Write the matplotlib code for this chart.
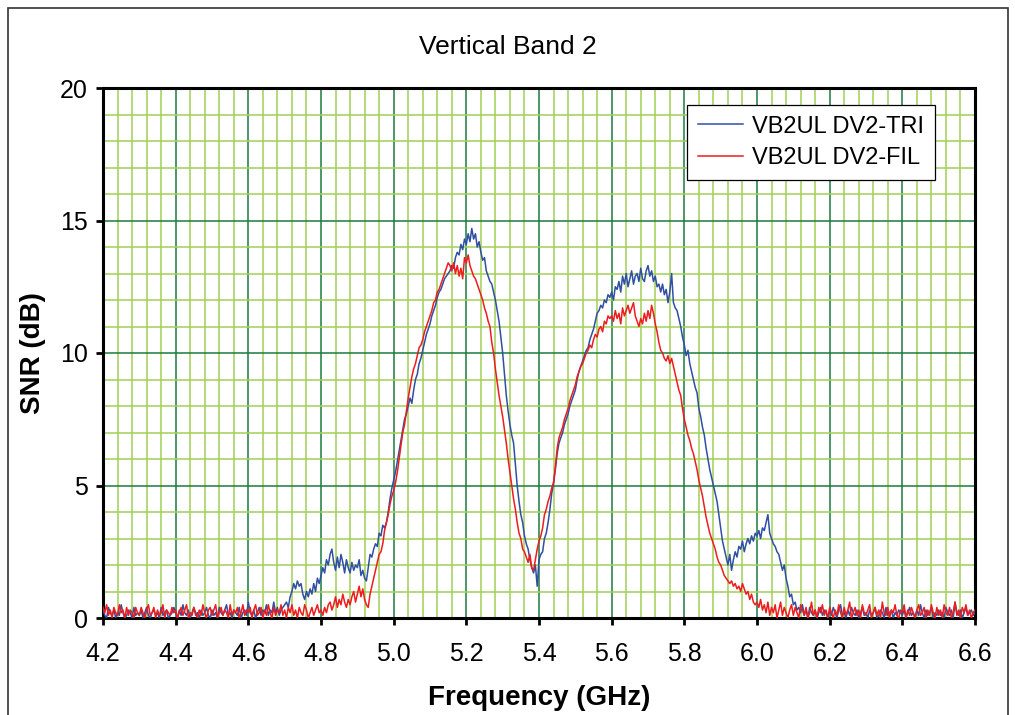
import matplotlib
matplotlib.use("Agg")
import matplotlib.pyplot as plt
import matplotlib.patches as patches
from matplotlib.ticker import MultipleLocator, FormatStrFormatter
import numpy as np

plt.rcParams['font.family'] = ['Liberation Sans', 'DejaVu Sans']

# frequency axis: 4.200 .. 6.600 GHz, 0.005 GHz step
f_start = 4.2
f_step = 0.005

# VB2UL DV2-TRI (blue), one row = 0.1 GHz
snr_tri = [
    0.3, 0.1, 0.0, 0.4, 0.2, 0.1, 0.3, 0.0, 0.2, 0.1, 0.5, 0.2, 0.0, 0.1, 0.3, 0.2, 0.0, 0.4, 0.1, 0.2,
    0.1, 0.3, 0.0, 0.2, 0.4, 0.1, 0.0, 0.2, 0.3, 0.1, 0.2, 0.0, 0.4, 0.1, 0.2, 0.3, 0.0, 0.1, 0.2, 0.4,
    0.2, 0.0, 0.3, 0.1, 0.5, 0.2, 0.1, 0.3, 0.0, 0.2, 0.4, 0.1, 0.2, 0.0, 0.3, 0.1, 0.2, 0.4, 0.1, 0.0,
    0.3, 0.1, 0.2, 0.0, 0.4, 0.2, 0.1, 0.3, 0.5, 0.1, 0.2, 0.0, 0.3, 0.2, 0.1, 0.4, 0.0, 0.2, 0.3, 0.1,
    0.6, 0.2, 0.1, 0.3, 0.0, 0.2, 0.4, 0.1, 0.3, 0.2, 0.5, 0.1, 0.3, 0.2, 0.6, 0.2, 0.4, 0.1, 0.3, 0.4,
    0.5, 0.6, 0.4, 0.8, 1.0, 1.3, 1.1, 1.4, 1.2, 1.3, 0.9, 0.7, 1.0, 0.8, 1.1, 0.9, 1.3, 1.0, 1.5, 1.3,
    1.6, 1.9, 1.7, 2.2, 2.0, 2.4, 2.6, 2.1, 1.8, 2.3, 1.9, 2.4, 2.1, 1.7, 2.2, 1.9, 1.7, 2.1, 1.8, 2.0,
    1.9, 2.2, 1.6, 1.8, 1.5, 1.4, 1.9, 2.4, 2.3, 2.6, 2.8, 2.7, 3.2, 3.1, 3.5, 3.4, 3.6, 4.0, 4.5, 4.9,
    5.2, 5.5, 5.9, 6.3, 6.7, 7.1, 7.5, 7.7, 8.0, 8.3, 8.1, 8.6, 9.0, 9.2, 9.6, 9.8, 10.1, 10.4, 10.7, 10.9,
    11.1, 11.4, 11.6, 11.8, 12.1, 12.3, 12.4, 12.6, 12.8, 12.9, 13.0, 13.1, 13.3, 13.2, 13.6, 13.8, 13.7, 14.1, 13.9, 14.3,
    14.1, 14.5, 14.2, 14.7, 14.3, 14.5, 14.0, 14.2, 13.8, 13.5, 13.6, 13.1, 12.9, 12.7, 12.6, 12.3, 12.0, 11.6, 11.2, 10.6,
    10.0, 9.2, 8.4, 7.8, 7.3, 6.9, 6.6, 5.8, 5.0, 4.4, 3.9, 3.6, 3.1, 2.8, 2.6, 2.2, 1.9, 1.7, 2.0, 1.2,
    2.2, 2.4, 2.5, 3.0, 3.2, 3.6, 4.1, 4.7, 5.1, 5.6, 6.2, 6.6, 6.8, 7.0, 7.3, 7.5, 7.7, 8.0, 8.2, 8.4,
    8.6, 9.0, 9.3, 9.5, 9.7, 9.9, 10.1, 10.2, 10.5, 10.7, 10.9, 11.2, 11.5, 11.6, 11.8, 11.7, 12.0, 11.9, 12.2, 12.1,
    12.3, 12.0, 12.5, 12.4, 12.7, 12.3, 12.9, 12.6, 13.0, 12.5, 12.8, 13.1, 12.6, 12.9, 13.0, 12.7, 13.2, 12.8, 12.7, 13.1,
    13.3, 12.9, 13.1, 12.7, 12.9, 12.5, 12.6, 12.3, 12.6, 12.2, 12.4, 11.9, 12.3, 13.0, 11.9, 11.7, 11.6, 11.3, 11.0, 10.6,
    10.3, 9.9, 10.1, 9.6, 9.3, 9.0, 8.7, 8.5, 7.9, 7.6, 7.2, 6.9, 6.4, 6.0, 5.6, 5.3, 5.0, 4.7, 4.4, 3.9,
    3.4, 2.9, 2.6, 2.3, 2.0, 2.4, 1.8, 2.2, 2.5, 2.3, 2.7, 2.6, 2.9, 2.5, 2.8, 3.0, 2.8, 3.1, 2.9, 3.2,
    3.1, 3.3, 3.0, 3.4, 3.3, 3.6, 3.9, 3.2, 3.0, 2.8, 2.7, 2.5, 2.4, 2.1, 1.8, 2.0, 1.5, 1.2, 0.8, 0.9,
    0.5, 0.6, 0.3, 0.4, 0.2, 0.5, 0.1, 0.3, 0.0, 0.4, 0.2, 0.1, 0.3, 0.0, 0.2, 0.4, 0.1, 0.3, 0.2, 0.0,
    0.3, 0.1, 0.4, 0.2, 0.0, 0.3, 0.5, 0.1, 0.2, 0.0, 0.3, 0.1, 0.4, 0.2, 0.1, 0.3, 0.0, 0.2, 0.4, 0.1,
    0.2, 0.0, 0.3, 0.1, 0.2, 0.4, 0.0, 0.1, 0.3, 0.2, 0.0, 0.4, 0.1, 0.2, 0.3, 0.0, 0.2, 0.1, 0.3, 0.2,
    0.1, 0.3, 0.0, 0.2, 0.4, 0.1, 0.2, 0.0, 0.3, 0.1, 0.5, 0.2, 0.0, 0.3, 0.1, 0.2, 0.4, 0.0, 0.2, 0.1,
    0.3, 0.1, 0.2, 0.0, 0.4, 0.2, 0.1, 0.3, 0.0, 0.6, 0.2, 0.1, 0.3, 0.0, 0.2, 0.4, 0.1, 0.2, 0.3, 0.1,
    0.2,
]

# VB2UL DV2-FIL (red)
snr_fil = [
    0.4, 0.2, 0.5, 0.1, 0.3, 0.0, 0.4, 0.2, 0.1, 0.5, 0.2, 0.3, 0.0, 0.4, 0.1, 0.3, 0.2, 0.0, 0.4, 0.2,
    0.1, 0.4, 0.2, 0.0, 0.3, 0.5, 0.1, 0.2, 0.4, 0.0, 0.3, 0.1, 0.2, 0.5, 0.0, 0.3, 0.2, 0.1, 0.4, 0.2,
    0.3, 0.0, 0.2, 0.4, 0.1, 0.3, 0.5, 0.0, 0.2, 0.1, 0.4, 0.2, 0.0, 0.3, 0.1, 0.5, 0.2, 0.0, 0.3, 0.4,
    0.1, 0.3, 0.5, 0.0, 0.2, 0.4, 0.1, 0.3, 0.2, 0.0, 0.5, 0.1, 0.3, 0.2, 0.4, 0.0, 0.2, 0.5, 0.1, 0.3,
    0.2, 0.4, 0.0, 0.3, 0.5, 0.1, 0.2, 0.4, 0.0, 0.3, 0.1, 0.5, 0.2, 0.0, 0.4, 0.1, 0.3, 0.2, 0.5, 0.1,
    0.3, 0.0, 0.4, 0.2, 0.5, 0.1, 0.3, 0.0, 0.4, 0.2, 0.1, 0.5, 0.3, 0.0, 0.2, 0.4, 0.1, 0.3, 0.5, 0.2,
    0.3, 0.1, 0.4, 0.2, 0.5, 0.6, 0.3, 0.5, 0.8, 0.4, 0.7, 0.5, 0.9, 0.6, 0.4, 0.7, 0.5, 0.8, 1.0, 0.6,
    0.9, 1.2, 0.8, 1.1, 0.7, 0.5, 0.4, 0.9, 1.2, 1.5, 1.8, 2.1, 2.4, 2.5, 2.8, 3.3, 3.6, 3.9, 4.3, 4.6,
    4.8, 5.1, 5.5, 6.0, 6.5, 7.0, 7.3, 7.8, 8.3, 8.7, 9.1, 9.4, 9.6, 9.9, 10.2, 10.3, 10.5, 10.8, 11.0, 11.2,
    11.4, 11.6, 11.9, 12.0, 12.3, 12.4, 12.6, 12.8, 13.0, 13.2, 13.4, 13.3, 13.1, 13.4, 13.0, 13.3, 12.9, 13.2, 12.8, 13.6,
    13.4, 13.7, 13.3, 13.1, 12.9, 12.8, 12.6, 12.4, 12.2, 12.0, 11.7, 11.5, 11.2, 11.0, 10.4, 10.0, 9.4, 8.9, 8.4, 8.0,
    7.6, 7.1, 6.6, 6.0, 5.5, 5.0, 4.5, 4.1, 3.6, 3.2, 3.0, 2.6, 2.5, 2.3, 2.1, 2.4, 1.9, 1.8, 2.2, 2.6,
    2.9, 3.1, 3.4, 3.9, 4.1, 4.4, 4.6, 4.9, 5.1, 5.7, 6.4, 6.8, 7.0, 7.2, 7.5, 7.7, 7.9, 8.2, 8.4, 8.6,
    8.8, 9.1, 9.3, 9.5, 9.6, 9.8, 10.0, 10.1, 10.3, 10.2, 10.5, 10.7, 10.6, 10.9, 11.0, 10.8, 11.2, 11.1, 11.4, 11.3,
    11.4, 11.2, 11.6, 11.3, 11.5, 11.1, 11.7, 11.4, 11.6, 11.8, 11.5, 11.7, 11.9, 11.4, 11.2, 11.0, 11.3, 11.1, 11.5, 11.2,
    11.6, 11.3, 11.8, 11.5, 11.1, 10.8, 10.4, 10.1, 10.0, 9.8, 9.7, 9.9, 9.6, 9.8, 9.5, 9.2, 8.9, 8.6, 8.4, 7.9,
    7.5, 7.2, 6.9, 6.7, 6.4, 6.2, 5.9, 5.6, 5.2, 4.9, 4.6, 4.2, 3.8, 3.5, 3.2, 3.0, 2.8, 2.6, 2.3, 2.1,
    2.0, 1.8, 1.6, 1.5, 1.4, 1.3, 1.4, 1.2, 1.3, 1.1, 1.2, 1.0, 1.3, 1.1, 0.9, 1.0, 0.7, 0.9, 0.6, 0.5,
    0.6, 0.4, 0.7, 0.3, 0.5, 0.2, 0.6, 0.1, 0.4, 0.2, 0.5, 0.0, 0.3, 0.6, 0.1, 0.4, 0.2, 0.0, 0.3, 0.5,
    0.1, 0.4, 0.2, 0.0, 0.5, 0.3, 0.1, 0.4, 0.0, 0.2, 0.6, 0.1, 0.3, 0.0, 0.4, 0.2, 0.5, 0.1, 0.3, 0.0,
    0.4, 0.2, 0.0, 0.3, 0.1, 0.5, 0.2, 0.0, 0.4, 0.1, 0.3, 0.6, 0.0, 0.2, 0.4, 0.1, 0.3, 0.0, 0.5, 0.2,
    0.1, 0.3, 0.5, 0.0, 0.2, 0.4, 0.1, 0.3, 0.0, 0.6, 0.2, 0.1, 0.4, 0.0, 0.3, 0.2, 0.5, 0.1, 0.0, 0.3,
    0.2, 0.5, 0.0, 0.3, 0.1, 0.4, 0.2, 0.0, 0.3, 0.5, 0.1, 0.2, 0.4, 0.0, 0.3, 0.1, 0.5, 0.2, 0.0, 0.4,
    0.1, 0.3, 0.0, 0.5, 0.2, 0.1, 0.4, 0.0, 0.2, 0.6, 0.1, 0.3, 0.0, 0.4, 0.2, 0.5, 0.1, 0.3, 0.0, 0.2,
    0.3,
]

freq = f_start + f_step * np.arange(len(snr_tri))

fig = plt.figure(figsize=(10.15, 7.15), dpi=100)
ax = fig.add_axes([103/1015, 1 - 618/715, 872/1015, 530/715])

ax.plot(freq, snr_tri, color='#2f4fa3', lw=1.1, label='VB2UL DV2-TRI', zorder=3)
ax.plot(freq, snr_fil, color='#ee1c1c', lw=1.1, label='VB2UL DV2-FIL', zorder=4)

ax.set_xlim(4.2, 6.6)
ax.set_ylim(0, 20)
ax.xaxis.set_major_locator(MultipleLocator(0.2))
ax.xaxis.set_minor_locator(MultipleLocator(0.04))
ax.yaxis.set_major_locator(MultipleLocator(5))
ax.yaxis.set_minor_locator(MultipleLocator(1))
ax.xaxis.set_major_formatter(FormatStrFormatter('%.1f'))

ax.grid(which='minor', color='#a2cf55', lw=1.1)
ax.grid(which='major', color='#1b7a3e', lw=1.1)
ax.set_axisbelow(True)

for s in ax.spines.values():
    s.set_linewidth(2.2)
    s.set_color('black')
ax.tick_params(which='major', direction='out', length=5, width=2, labelsize=18)
ax.tick_params(axis='x', which='major', pad=12)
ax.tick_params(axis='y', which='major', pad=6)
ax.tick_params(which='minor', length=0)

ax.set_xlabel('Frequency (GHz)', fontsize=20, fontweight='bold', labelpad=14)
ax.set_ylabel('SNR (dB)', fontsize=20, fontweight='bold', labelpad=10)
fig.text(0.5, 1 - 47/715, 'Vertical Band 2', ha='center', va='center', fontsize=19)

leg = ax.legend(loc='upper right', bbox_to_anchor=(935/1015, 1 - 105/715),
                bbox_transform=fig.transFigure, fontsize=17, frameon=True,
                fancybox=False, handlelength=1.9, handletextpad=0.4,
                borderpad=0.45, labelspacing=0.4, borderaxespad=0)
leg.get_frame().set_edgecolor('black')
leg.get_frame().set_linewidth(0.9)
leg.get_frame().set_alpha(1)

# outer chart border (cut at the bottom like the original)
border = patches.Rectangle((8/1015, -0.05), 1000/1015, (715 - 8)/715 + 0.05,
                           transform=fig.transFigure, fill=False,
                           edgecolor='#333333', lw=1.2)
fig.patches.append(border)

fig.savefig('out.png', dpi=100)
